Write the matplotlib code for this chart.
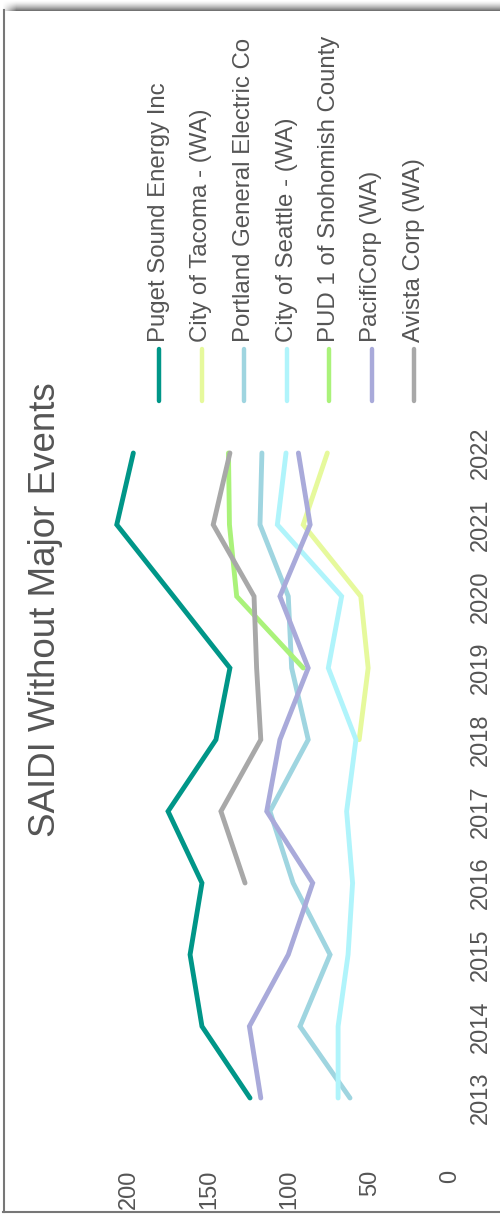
import numpy as np
import matplotlib
matplotlib.use("Agg")
import matplotlib.pyplot as plt
from matplotlib.lines import Line2D

plt.rcParams['font.family'] = ['Liberation Sans', 'DejaVu Sans']

years = [2013, 2014, 2015, 2016, 2017, 2018, 2019, 2020, 2021, 2022]
nan = np.nan

utilities = [
    "Puget Sound Energy Inc",
    "City of Tacoma - (WA)",
    "Portland General Electric Co",
    "City of Seattle - (WA)",
    "PUD 1 of Snohomish County",
    "PacifiCorp (WA)",
    "Avista Corp (WA)",
]
puget = [124.4, 154.3, 161.7, 154.3, 175.4, 145.6, 136.9, 172.0, 207.3, 197.0]
tacoma = [nan, nan, nan, nan, nan, 56.5, 50.9, 55.5, 91.3, 76.3]
portland = [62.2, 93.3, 74.6, 97.6, 112.0, 88.2, 98.5, 100.6, 118.2, 117.0]
seattle = [69.6, 69.6, 63.4, 60.6, 64.3, 58.5, 75.7, 67.4, 107.4, 102.0]
snohomish = [nan, nan, nan, nan, nan, nan, 91.3, 132.7, 137.2, 137.8]
pacificorp = [117.7, 124.8, 100.6, 85.4, 114.0, 105.8, 88.2, 105.8, 87.0, 94.3]
avista = [nan, nan, nan, 127.5, 142.5, 117.7, 120.3, 121.9, 147.3, 136.9]
series = [puget, tacoma, portland, seattle, snohomish, pacificorp, avista]

colors = ['#009688', '#e6f99c', '#9fd5e0', '#b0f4fb', '#aaf27a', '#a9aada', '#a8a8a8']
value_ticks = [0, 50, 100, 150, 200]
title = "SAIDI Without Major Events"

TEXT = '#555555'
W, H = 500, 1225
fig = plt.figure(figsize=(W / 100, H / 100), dpi=100)


def fx(px):
    return px / W


def fy(py):
    # pixel row measured from the top edge -> figure fraction
    return 1 - py / H


# Plot area: values run right-to-left, years run bottom-to-top
ax_left, ax_right = 96.35, 453.2
ax_top, ax_bottom = 431.5, 1119.5
ax = fig.add_axes([fx(ax_left), fy(ax_bottom), fx(ax_right - ax_left), (ax_bottom - ax_top) / H])
for s, c in zip(series, colors):
    ax.plot(s, years, color=c, lw=3.5, solid_capstyle='round', solid_joinstyle='miter')
ax.set_xlim(220, -2)
ax.set_ylim(2012.7, 2022.3)
for sp in ax.spines.values():
    sp.set_visible(False)
ax.patch.set_alpha(0)

ax.tick_params(axis='x', length=0, pad=36)
ax.yaxis.tick_right()
ax.tick_params(axis='y', length=0, pad=12)

# Value labels: rotated, their ends lined up below the plot area
ax.set_xticks(value_ticks)
ax.set_xticklabels([str(v) for v in value_ticks], fontsize=17, color=TEXT)
for lab in ax.get_xticklabels():
    lab.set_rotation(90)
    lab.set_rotation_mode('anchor')
    lab.set_horizontalalignment('right')
    lab.set_verticalalignment('center')

ax.set_yticks(years)
ax.set_yticklabels([str(y) for y in years], fontsize=17, color=TEXT)
for lab in ax.get_yticklabels():
    lab.set_rotation(90)
    lab.set_rotation_mode('default')
    lab.set_horizontalalignment('left')
    lab.set_verticalalignment('center')

# Title
fig.text(fx(46), fy(610), title, rotation=90, ha='center', va='center',
         fontsize=26.5, color=TEXT)

# Legend
leg_x0, leg_dx = 159, 42.5
for i, (name, c) in enumerate(zip(utilities, colors)):
    x = leg_x0 + i * leg_dx
    fig.add_artist(Line2D([fx(x), fx(x)], [fy(349), fy(401)], transform=fig.transFigure,
                          color=c, lw=3.2, solid_capstyle='round'))
    fig.text(fx(x), fy(342), name, rotation=90, ha='center', va='bottom',
             fontsize=17.3, color=TEXT)

# Card frame with shadow along the top
frame = '#777777'
fig.add_artist(Line2D([fx(3.5), fx(3.5)], [fy(10), fy(1212)], transform=fig.transFigure,
                      color=frame, lw=1.5))
fig.add_artist(Line2D([fx(3), fx(500)], [fy(1211.5), fy(1211.5)], transform=fig.transFigure,
                      color=frame, lw=1.5))
shade = fig.add_axes([0, fy(11), 1, 11 / H])
rows = np.linspace(0.0, 1.0, 11) ** 1.5
cols = np.clip((np.arange(W) - 2) / 14.0, 0, 1)
alpha = rows[:, None] * cols[None, :]
img = np.zeros((11, W, 4))
img[..., :3] = 0.42
img[..., 3] = alpha * 0.95
shade.imshow(img, aspect='auto', interpolation='nearest')
shade.axis('off')

fig.savefig('out.png', dpi=100)
